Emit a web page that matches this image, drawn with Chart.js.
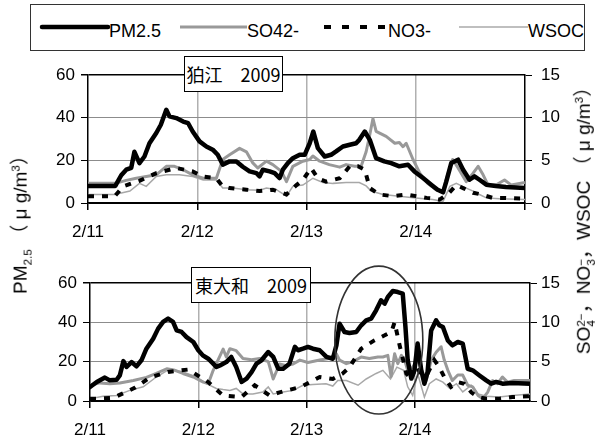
<!DOCTYPE html>
<html>
<head>
<meta charset="utf-8">
<script src="https://cdn.jsdelivr.net/npm/chart.js@4"></script>
<style>
  body { margin: 0; background: #fff; }
  #page { position: relative; width: 598px; height: 443px; overflow: hidden; background: #fff;
          font-family: "Liberation Sans", "Noto Sans CJK JP", sans-serif; color: #000; }
  canvas { position: absolute; left: 0; }
  .site { position: absolute; box-sizing: border-box; border: 1px solid #000; background: #fff;
          font: 18px "Noto Sans CJK JP", sans-serif; text-align: center; line-height: 34px; height: 36px; }
  .ytitle { position: absolute; width: 0; height: 0; }
  .ytitle div { position: absolute; white-space: nowrap; font-size: 19px;
                transform: translate(-50%, -50%) rotate(-90deg); }
  .ss { display: inline-block; vertical-align: -0.45em; line-height: 0.85; font-size: 0.62em; text-align: left; }
  sub, sup { font-size: 0.62em; }
</style>
</head>
<body>
<div id="page">
  <svg width="598" height="55" style="position:absolute;left:0;top:0"
       font-family="Liberation Sans, sans-serif" font-size="18">
    <rect x="30.5" y="4.5" width="554" height="46" fill="#fff" stroke="#333" stroke-width="1"/>
    <line x1="42" y1="27" x2="108" y2="27" stroke="#000" stroke-width="4.5" stroke-linecap="round"/>
    <text x="109" y="37">PM2.5</text>
    <line x1="180" y1="27" x2="247" y2="27" stroke="#999" stroke-width="3"/>
    <text x="247" y="37">SO42-</text>
    <line x1="324" y1="27" x2="388" y2="27" stroke="#000" stroke-width="4" stroke-dasharray="7 11"/>
    <text x="388" y="37">NO3-</text>
    <line x1="459" y1="27" x2="528" y2="27" stroke="#aaa" stroke-width="1.5"/>
    <text x="528" y="37">WSOC</text>
  </svg>

  <canvas id="komae" width="598" height="190" style="top:55px"></canvas>
  <canvas id="higashi" width="598" height="188" style="top:255px"></canvas>

  <div class="site" style="left:184px;top:56px;width:99px">狛江　2009</div>
  <div class="site" style="left:191px;top:267px;width:120px">東大和　2009</div>

  <div class="ytitle" style="left:19px;top:220px"><div>PM<sub>2.5</sub> （ μ g/m<sup>3</sup>）</div></div>
  <div class="ytitle" style="left:582px;top:216px"><div>SO<span class="ss">2−<br>4</span>，NO<span class="ss">−<br>3</span>，WSOC （ μ g/m<sup>3</sup>）</div></div>
</div>

<script>
// time axis in hours from 2/11 0:00
const dayLabels = ['2/11', '2/12', '2/13', '2/14'];

// 狛江 (Komae) : [hour, value]
const komaePm25 = [[0,8],[6,8],[7.3,13],[8.4,15.6],[9.5,16.5],[10.2,24],[11.3,18.7],[12.4,21.8],[13.5,28],[15,32.8],
  [16,36.7],[17.2,43.7],[17.9,40.6],[19.4,39.8],[20.9,38.2],[22,37.4],[23,33.5],[24.5,28.9],[26,26.5],[27.4,25],
  [28.5,22.6],[29.6,18],[31.1,19.5],[32.6,19.5],[34,17],[35.5,14.8],[37,14],[37.7,12.5],[38.4,15.6],[39.9,14.8],
  [41,14],[42.1,11.7],[42.8,15.6],[43.9,18.7],[45,21],[46.5,22.6],[47.6,22.6],[48.7,28],[49.5,33.5],[50.5,25.7],
  [52,21.8],[53.4,22.6],[54.5,24.2],[56,26.5],[57.5,27.3],[58.9,28],[59.6,29.6],[60.8,33.5],[61.9,29.6],[63.3,21],
  [65.1,19.5],[66.6,18.7],[68.4,17.2],[70.3,17.9],[71.7,14.8],[73.6,11.7],[75.4,8.6],[76.8,6.2],[78,5],[78.7,10],
  [79.8,18.7],[81.3,20.3],[82.4,15.6],[83.8,10.9],[84.9,12.5],[86,10.9],[87.5,8.6],[89.6,8],[91.8,7.5],[96,7]];
const komaeSo4 = [[0,2.3],[6,2.3],[8.4,2.65],[10.6,2.9],[12.8,3.1],[15,3.3],[17.2,4.3],[19,4.3],[20.9,3.9],[23,3.3],
  [25.3,2.9],[28.2,2.9],[29.6,5.1],[31.1,5.65],[33.3,6.4],[34.8,6],[36.2,4.7],[37.3,4.1],[39.2,4.9],[40.6,4.5],
  [42.5,3.7],[43.6,2.5],[45,4.3],[47.2,4.9],[48.7,5.1],[49.4,5.5],[50.9,4.9],[53,4.5],[55.3,4.2],[56.7,4.5],
  [58.6,4.3],[60,4.3],[61.1,6],[61.9,8],[62.6,9.9],[63.3,8.4],[65.5,7.8],[67.4,7],[68.4,7.1],[69.2,6.6],[69.9,7],
  [71.4,5.1],[72.9,3.5],[74.6,2.3],[76.5,1.56],[78,1.4],[79,3.3],[80.1,5.1],[81.3,4.1],[83.1,2.5],[84.6,3.5],
  [85.7,4.3],[86.8,3.3],[87.9,2.1],[89.6,2.1],[91.5,2.7],[93,2.1],[96,2.4]];
const komaeNo3 = [[0,0.8],[5.9,0.8],[7.7,1.95],[11.3,2.6],[15,3.5],[19.4,4.1],[23,3.7],[25.3,3.1],[28.2,2.9],[29.6,1.95],
  [31.1,1.75],[34.8,1.56],[37.7,1.4],[40.6,1.56],[43.6,1],[45.8,2.1],[47.2,2.7],[49,4.1],[50.5,2.9],[52.3,2.5],
  [55.3,2.9],[57.5,4.3],[59.3,4.3],[60.8,3.9],[61.9,1.75],[64,1],[67,0.8],[69.9,1],[74.4,0.6],[77.2,0.4],[79,1],
  [80.9,2.1],[82.4,1.75],[84.6,1.2],[86.4,1],[88.9,0.6],[91.8,0.6],[96,0.5]];
const komaeWsoc = [[0,1],[5.9,1],[9.2,1.4],[11.3,2.3],[12.8,1.95],[15,3.1],[17.2,3.3],[20.1,3.3],[23,3.1],[25.3,2.7],
  [28.2,2.7],[29.6,1.75],[31.8,1.75],[34.8,1.56],[37.7,1.5],[39.2,1.75],[41.4,1.56],[43.6,0.8],[45,1.95],[47.2,2.1],
  [49.4,2.9],[51.6,2.4],[53.8,2.3],[56.7,2.4],[59.6,2.4],[61.1,2],[62.2,1.4],[64.8,1],[68.4,0.8],[72,0.6],[75.7,0.4],
  [78,0.2],[79.5,1.95],[80.9,2.3],[83.1,1.75],[84.6,1.4],[86,1],[87.5,0.6],[90.4,0.5],[96,0.4]];

// 東大和 (Higashiyamato) : [hour, value]
const higashiPm25 = [[0,7.1],[1.5,9.7],[3.3,11.9],[4.4,10.5],[5.9,10.8],[6.6,13],[7.4,20.3],[8.1,17.3],[9.2,19.8],
  [10.3,17.6],[11.4,20.7],[12.5,26.6],[14,31.7],[15.1,36.8],[16.2,40.2],[17.3,41.9],[18.4,40.2],[19.2,35.9],
  [20.3,35.1],[21.4,32.5],[22.9,30],[24,25.8],[25,23.2],[26.2,21.5],[27.3,19],[28,17.3],[28.8,18.1],[30.2,19.8],
  [31.3,22.4],[32.4,17.3],[33.6,9.7],[34.7,11.4],[35.8,14.7],[36.9,19],[38,20.7],[39.5,24.9],[40.6,22.4],[41.7,16.4],
  [42.8,16.4],[44.2,19],[45.4,27.5],[46.1,25.8],[47.2,26.6],[48.3,27.5],[49.4,26.6],[50.9,25.8],[52.4,22.4],
  [53.8,21.5],[54.6,28.3],[55.3,39.3],[56.4,35.1],[57.5,34.6],[59,35.1],[60.1,38.5],[61.2,41],[62.3,41.9],
  [63.4,46.1],[64.5,51.2],[65.3,49.5],[66,52.9],[67.1,55.9],[68.2,55.4],[69.3,54.6],[69.9,37.6],[70.4,20.7],
  [71.2,11.4],[71.9,15.6],[72.6,29.2],[73.4,15.6],[74.1,8.8],[74.8,14.7],[75.6,35.9],[76.7,41],[77.4,38.5],
  [78.2,37.6],[79.3,30.8],[80.3,28.3],[81.5,30],[82.6,29.2],[83.7,16.4],[84.8,15.6],[86.3,13],[87.8,10.5],
  [88.9,8.8],[90,9.7],[91.4,8.8],[93.6,9.2],[97.5,8.8]];
const higashiSo4 = [[0,2],[2.2,2.3],[4.4,2.2],[6.6,2.3],[9.6,2.6],[12.5,3],[14.7,3.5],[17,4.1],[18.8,3.9],[20.6,3.5],
  [22.9,3.05],[25.1,2.4],[26.2,2.2],[27.3,3.9],[29.5,6.6],[30.2,5.6],[31,6.65],[32.4,6.4],[33.9,5.4],[35.8,5.25],
  [37.6,5.4],[39.5,5],[40.6,2.8],[42,4.7],[43.5,4.5],[45,4.7],[46.5,5.2],[48.3,4.9],[50.9,5.2],[53,5.4],[54.6,6],
  [55.3,5.2],[56.8,4.75],[58.3,5],[60.1,5.6],[61.9,5.4],[63.8,5.6],[64.9,5.6],[66,5.8],[66.7,3.1],[67.5,6],
  [68.2,4.75],[69,5.8],[69.7,5.2],[70.4,3.9],[71.5,4.3],[72.6,5.2],[73.4,4.1],[74.5,2.6],[75.6,5.2],[76.7,6.2],
  [77.8,6.9],[78.5,5.2],[79.3,3.9],[80.3,2.6],[81.5,3.3],[82.6,3.3],[83.7,2],[84.8,1.8],[86,0.7],[87,0.3],[88.1,1.1],
  [89.2,2.6],[90.3,2.2],[91.4,3.05],[92.5,2.4],[94,2.6],[97.5,2.6]];
const higashiNo3 = [[0,0.3],[1.5,0.3],[5.2,0.4],[10,1.7],[13.3,3],[17.3,3.7],[21.8,4],[25.1,2.8],[26.2,2.4],[29.5,0.7],
  [33.6,0.5],[36.5,2],[39.8,0.7],[42,1.1],[46.8,1.8],[50.9,3.05],[53.8,2.8],[56,3.5],[57.5,4.3],[60.1,6.65],[63,7.7],
  [65.3,8.35],[66.8,8.8],[67.5,10],[68.6,7.1],[70.1,3.5],[71.2,2.8],[72.3,4.5],[73.4,3.3],[74.8,3.5],[76.3,5.2],
  [77.4,4.3],[78.5,3.05],[80,1.8],[81.5,2.4],[82.9,2.2],[84.5,1.1],[86,0.5],[87.8,0.3],[90.7,0.3],[93.6,0.5],[97.5,0.6]];
const higashiWsoc = [[0,0.3],[2.9,0.6],[5.9,0.7],[8.8,1.35],[11.8,1.8],[14.7,3.05],[17.7,4.1],[20.6,3.7],[23.6,3.05],
  [25.8,2.2],[28,1.6],[29.5,1.45],[31,1.35],[32.4,1.6],[33.9,0.9],[36.1,0.9],[38.3,1.15],[39.5,1.8],[40.6,0.9],
  [42.8,1.15],[45,1.35],[47.2,2],[49.4,2.1],[52.3,2.2],[53.8,1.9],[54.9,2.6],[56.8,2.6],[59.4,2],[61.2,2.8],[63.4,3.5],
  [64.9,3.9],[66.6,2.8],[68,4.3],[69.5,3.9],[70.4,1.8],[71.5,0.7],[72.6,3.5],[74.1,0.5],[75.2,2.2],[76.7,2.8],
  [78.2,2.4],[79.7,1.6],[81.2,2.2],[82.6,1.15],[84.5,2],[86,0.9],[87.8,0.6],[90.7,0.5],[93.6,0.7],[97.5,0.9]];

// ellipse marking the high-PM2.5 event at 東大和 (hour / PM2.5 units)
const markHour = 64, markValue = 31, markHalfHours = 9.75, markHalfValue = 37.6;

const tickFont = { family: 'Liberation Sans', size: 17 };

const ellipsePlugin = {
  id: 'mark',
  afterDatasetsDraw(chart) {
    const x = chart.scales.x, y = chart.scales.y, ctx = chart.ctx;
    const cx = x.getPixelForValue(markHour);
    const cy = y.getPixelForValue(markValue);
    const rx = x.getPixelForValue(markHour + markHalfHours) - cx;
    const ry = cy - y.getPixelForValue(markValue + markHalfValue);
    ctx.save();
    ctx.beginPath();
    ctx.ellipse(cx, cy, rx, ry, 0, 0, Math.PI * 2);
    ctx.strokeStyle = '#333';
    ctx.lineWidth = 1.6;
    ctx.stroke();
    ctx.restore();
  }
};

function series(pm, so4, no3, wsoc) {
  return [
    { label: 'PM2.5', data: pm, yAxisID: 'y', borderColor: '#000', borderWidth: 4.5, borderJoinStyle: 'round', borderCapStyle: 'round' },
    { label: 'NO3-', data: no3, yAxisID: 'y2', borderColor: '#000', borderWidth: 4, borderDash: [6, 8] },
    { label: 'SO42-', data: so4, yAxisID: 'y2', borderColor: '#999', borderWidth: 3, borderJoinStyle: 'round' },
    { label: 'WSOC', data: wsoc, yAxisID: 'y2', borderColor: '#a8a8a8', borderWidth: 1.5 }
  ];
}

function makeChart(id, datasets, opts) {
  return new Chart(document.getElementById(id), {
    type: 'line',
    data: { datasets: datasets },
    plugins: opts.plugins || [],
    options: {
      responsive: false,
      animation: false,
      elements: { point: { radius: 0 }, line: { tension: 0 } },
      layout: { padding: { top: opts.top, left: 0, right: 0, bottom: 0 } },
      plugins: { legend: { display: false }, tooltip: { enabled: false } },
      scales: {
        x: {
          type: 'linear', min: 0, max: opts.xMax,
          afterBuildTicks: s => { s.ticks = opts.xTicks.map(v => ({ value: v })); },
          afterFit: s => { s.height = opts.xHeight; },
          ticks: { font: tickFont, color: '#000', padding: 12, maxRotation: 0, autoSkip: false,
                   callback: v => dayLabels[v / 24] || '' },
          grid: { color: c => (c.tick && (c.tick.value === 0 || c.tick.value === opts.xMax)) ? 'rgba(0,0,0,0)' : '#b0b0b0',
                  lineWidth: 1.5, tickColor: '#000', tickLength: 7 },
          border: { color: '#000', width: 1.5 }
        },
        y: {
          position: 'left', min: 0, max: 60,
          afterFit: s => { s.width = opts.left; },
          ticks: { stepSize: 20, font: tickFont, color: '#000', padding: 6 },
          grid: { color: c => (c.tick && (c.tick.value === 0 || c.tick.value === 60)) ? '#000' : '#8c8c8c',
                  lineWidth: c => (c.tick && c.tick.value === 60) ? 1.5 : 1, tickColor: '#000', tickLength: 7 },
          border: { color: '#000', width: 1.5 }
        },
        y2: {
          position: 'right', min: 0, max: 15,
          afterFit: s => { s.width = opts.right; },
          ticks: { stepSize: 5, font: tickFont, color: '#000', padding: opts.rightPad },
          grid: { drawOnChartArea: false, tickColor: '#000', tickLength: 7 },
          border: { color: '#000', width: 1.5 }
        }
      }
    }
  });
}

makeChart('komae', series(komaePm25, komaeSo4, komaeNo3, komaeWsoc),
  { top: 20, xMax: 96, xTicks: [0, 24, 48, 72, 96], xHeight: 42, left: 88, right: 73, rightPad: 9 });
makeChart('higashi', series(higashiPm25, higashiSo4, higashiNo3, higashiWsoc),
  { top: 28, xMax: 97.5, xTicks: [0, 24, 48, 72], xHeight: 42, left: 90, right: 68, rightPad: 4, plugins: [ellipsePlugin] });
</script>
</body>
</html>
